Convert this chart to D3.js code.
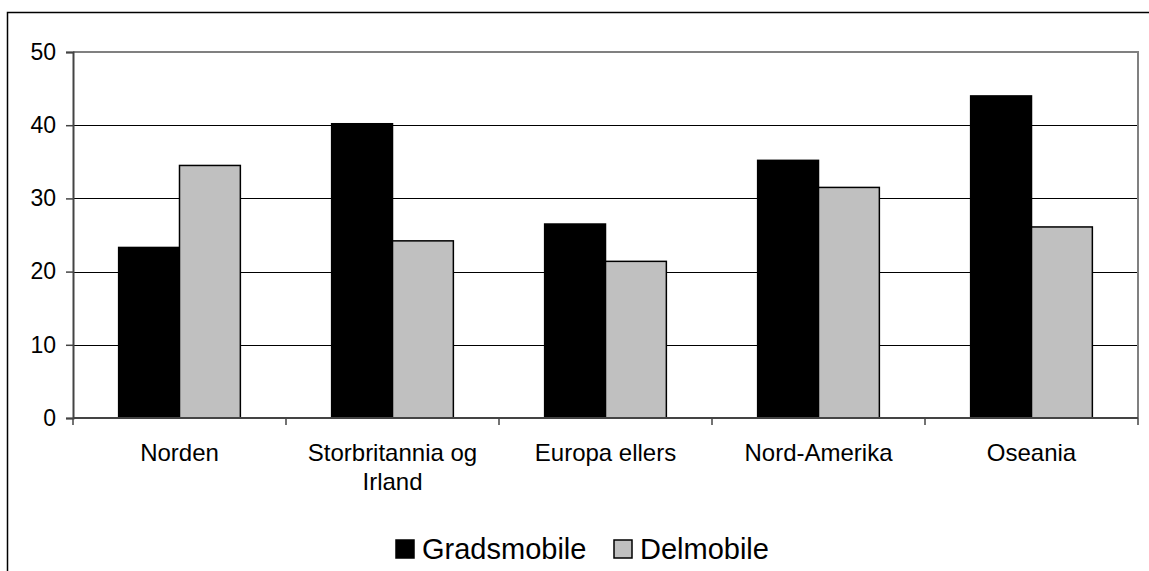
<!DOCTYPE html>
<html>
<head>
<meta charset="utf-8">
<script src="https://cdn.jsdelivr.net/npm/d3@7"></script>
<style>
  html, body { margin: 0; padding: 0; background: #fff; }
  svg { display: block; }
  text { font-family: "Liberation Sans", Arial, sans-serif; fill: #000; }
</style>
</head>
<body>
<svg id="chart" width="1149" height="571"></svg>
<script>
const categories = ["Norden", "Storbritannia og Irland", "Europa ellers", "Nord-Amerika", "Oseania"];
const seriesNames = ["Gradsmobile", "Delmobile"];
const gradsmobile = [23.3, 40.2, 26.5, 35.2, 44.0];
const delmobile = [34.5, 24.2, 21.4, 31.5, 26.1];
const yTicks = [0, 10, 20, 30, 40, 50];
const colors = ["#000000", "#c0c0c0"];

const svg = d3.select("#chart");
const plot = { left: 73, right: 1138, top: 52, bottom: 418 };

// outer frame
svg.append("path")
  .attr("d", "M7.5,571 V12.5 H1149")
  .attr("fill", "none").attr("stroke", "#000").attr("stroke-width", 1.5);

const x = d3.scaleBand().domain(categories).range([plot.left, plot.right]).padding(0);
const xs = d3.scaleBand().domain(seriesNames).range([0, x.bandwidth()]).paddingInner(0).paddingOuter(0.75);
const y = d3.scaleLinear().domain([0, 50]).range([plot.bottom, plot.top]);

// gridlines
svg.append("g").selectAll("line").data(yTicks.filter(t => t > 0 && t < 50)).join("line")
  .attr("x1", plot.left).attr("x2", plot.right)
  .attr("y1", d => Math.round(y(d)) + 0.5).attr("y2", d => Math.round(y(d)) + 0.5)
  .attr("stroke", "#000").attr("stroke-width", 1);

// plot border top and right (gray)
svg.append("path")
  .attr("d", `M${plot.left},${plot.top} H${plot.right} V${plot.bottom}`)
  .attr("fill", "none").attr("stroke", "#808080").attr("stroke-width", 2);

// bars
const data = categories.map((c, i) => ({ cat: c, vals: [gradsmobile[i], delmobile[i]] }));
const groups = svg.append("g").selectAll("g").data(data).join("g")
  .attr("transform", d => `translate(${x(d.cat)},0)`);
groups.selectAll("rect").data(d => d.vals.map((v, j) => ({ s: seriesNames[j], v, j }))).join("rect")
  .attr("x", d => xs(d.s))
  .attr("width", xs.bandwidth())
  .attr("y", d => y(d.v))
  .attr("height", d => y(0) - y(d.v))
  .attr("fill", d => colors[d.j])
  .attr("stroke", "#000").attr("stroke-width", 1.5);

// y axis
const yAxis = d3.axisLeft(y).tickValues(yTicks).tickSize(7).tickPadding(10).tickFormat(d3.format("d"));
const ga = svg.append("g").attr("transform", `translate(${plot.left},0)`).call(yAxis);
ga.select(".domain").attr("stroke", "#444").attr("stroke-width", 2);
ga.selectAll(".tick line").attr("stroke", "#444").attr("stroke-width", 1.5);
ga.selectAll("text").attr("font-size", 23).attr("font-family", "Liberation Sans, Arial, sans-serif").attr("fill", "#000");

// x axis line and ticks at category boundaries
const boundaries = categories.map(c => x(c)).concat([plot.right]);
svg.append("line")
  .attr("x1", plot.left).attr("x2", plot.right)
  .attr("y1", plot.bottom).attr("y2", plot.bottom)
  .attr("stroke", "#444").attr("stroke-width", 2);
svg.append("g").selectAll("line").data(boundaries).join("line")
  .attr("x1", d => d).attr("x2", d => d)
  .attr("y1", plot.bottom).attr("y2", plot.bottom + 7)
  .attr("stroke", "#444").attr("stroke-width", 1.5);

// category labels with wrapping
const labelSize = 24;
const labels = svg.append("g").selectAll("text").data(categories).join("text")
  .attr("x", d => x(d) + x.bandwidth() / 2)
  .attr("y", 461)
  .attr("text-anchor", "middle")
  .attr("font-size", labelSize);
labels.each(function(d) {
  const t = d3.select(this);
  const words = d.split(" ");
  const maxW = x.bandwidth() - 10;
  let line = [], lines = [];
  const tmp = t.append("tspan");
  words.forEach(w => {
    const test = line.concat([w]).join(" ");
    tmp.text(test);
    if (tmp.node().getComputedTextLength() > maxW && line.length) {
      lines.push(line.join(" "));
      line = [w];
    } else {
      line.push(w);
    }
  });
  lines.push(line.join(" "));
  tmp.remove();
  lines.forEach((l, k) => {
    t.append("tspan").attr("x", x(d) + x.bandwidth() / 2).attr("dy", k === 0 ? 0 : 29).text(l);
  });
});

// legend
const legendX = [396, 614];
const legend = svg.append("g").selectAll("g").data(seriesNames).join("g")
  .attr("transform", (d, i) => `translate(${legendX[i]},540)`);
legend.append("rect").attr("width", 18).attr("height", 18)
  .attr("fill", (d, i) => colors[i]).attr("stroke", "#000").attr("stroke-width", 1.5);
legend.append("text").attr("x", 26).attr("y", 18.5).attr("font-size", 29).text(d => d);
</script>
</body>
</html>
